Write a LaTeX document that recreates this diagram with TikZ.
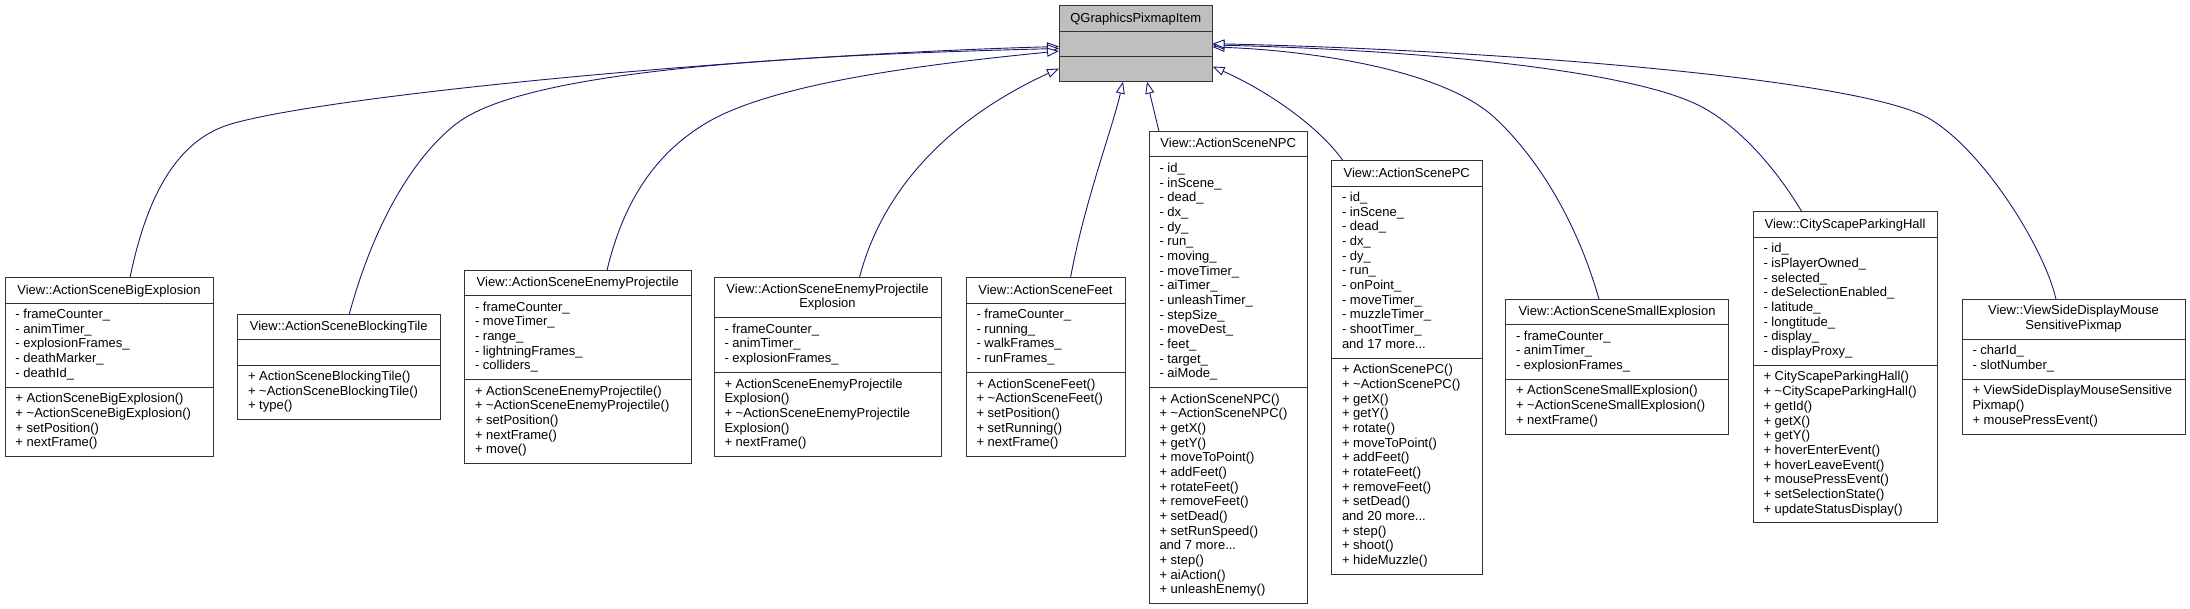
\documentclass[tikz,border=0pt]{standalone}
\usepackage{fontspec}
\setmainfont{Liberation Sans}
\usetikzlibrary{arrows.meta}
\definecolor{edgeblue}{HTML}{191970}
\definecolor{boxline}{HTML}{333333}
\definecolor{parentgray}{HTML}{BFBFBF}
\newcommand\cstrut{\rule[-3.67pt]{0pt}{14.67pt}}
\newcommand\tld{\textasciitilde}
\tikzset{
  cls/.style={draw=boxline, line width=1pt, fill=white, inner sep=0pt, outer sep=0pt, anchor=north west},
  sepline/.style={draw=boxline, line width=1pt},
  txt/.style={font=\fontsize{13pt}{14.67pt}\selectfont, inner sep=0pt, outer sep=0pt,
              execute at begin node=\cstrut, execute at end node=\cstrut},
  ttl/.style={txt, align=center, anchor=center},
  lst/.style={txt, align=left, anchor=west},
  inh/.style={draw=edgeblue, line width=0.9pt, -{Triangle[length=12pt, width=9pt, fill=white]}},
}
\begin{document}
\begin{tikzpicture}[x=1pt, y=-1pt]
\fill[white] (0,0) rectangle (2190,609);
\useasboundingbox (0,0) rectangle (2190,609);

% ---------- parent ----------
\node[cls, fill=parentgray, minimum width=153.5pt, minimum height=76pt] (parent) at (1059,5.7) {};
\draw[sepline] (1059,31.3) -- (1212.5,31.3);
\draw[sepline] (1059,56.5) -- (1212.5,56.5);
\node[ttl] (parent-t) at (1135.75,18.5) {QGraphicsPixmapItem};

% ---------- BigExplosion ----------
\node[cls, minimum width=208pt, minimum height=178.8pt] (bigexp) at (5,277.7) {};
\draw[sepline] (5,303.07) -- (213,303.07);
\draw[sepline] (5,387.12) -- (213,387.12);
\node[ttl] (bigexp-t) at (109,290.4) {View::ActionSceneBigExplosion};
\node[lst] (bigexp-a) at (15.5,345.1) {- frameCounter\_\\- animTimer\_\\- explosionFrames\_\\- deathMarker\_\\- deathId\_};
\node[lst] (bigexp-m) at (15.5,421.8) {+ ActionSceneBigExplosion()\\+ \tld ActionSceneBigExplosion()\\+ setPosition()\\+ nextFrame()};

% ---------- BlockingTile ----------
\node[cls, minimum width=202.5pt, minimum height=105.45pt] (blocktile) at (237.5,314.3) {};
\draw[sepline] (237.5,339.67) -- (440,339.67);
\draw[sepline] (237.5,365.04) -- (440,365.04);
\node[ttl] (blocktile-t) at (338.75,327) {View::ActionSceneBlockingTile};
\node[lst] (blocktile-m) at (248,392.4) {+ ActionSceneBlockingTile()\\+ \tld ActionSceneBlockingTile()\\+ type()};

% ---------- EnemyProjectile ----------
\node[cls, minimum width=226.5pt, minimum height=193.47pt] (enproj) at (464.5,270.3) {};
\draw[sepline] (464.5,295.67) -- (691,295.67);
\draw[sepline] (464.5,379.72) -- (691,379.72);
\node[ttl] (enproj-t) at (577.75,283) {View::ActionSceneEnemyProjectile};
\node[lst] (enproj-a) at (475,337.7) {- frameCounter\_\\- moveTimer\_\\- range\_\\- lightningFrames\_\\- colliders\_};
\node[lst] (enproj-m) at (475,421.75) {+ ActionSceneEnemyProjectile()\\+ \tld ActionSceneEnemyProjectile()\\+ setPosition()\\+ nextFrame()\\+ move()};

% ---------- EnemyProjectileExplosion ----------
\node[cls, minimum width=227pt, minimum height=178.8pt] (enprojexp) at (714,277.7) {};
\draw[sepline] (714,317.74) -- (941,317.74);
\draw[sepline] (714,372.45) -- (941,372.45);
\node[ttl] (enprojexp-t) at (827.5,297.72) {View::ActionSceneEnemyProjectile\\Explosion};
\node[lst] (enprojexp-a) at (724.5,345.1) {- frameCounter\_\\- animTimer\_\\- explosionFrames\_};
\node[lst] (enprojexp-m) at (724.5,414.48) {+ ActionSceneEnemyProjectile\\Explosion()\\+ \tld ActionSceneEnemyProjectile\\Explosion()\\+ nextFrame()};

% ---------- Feet ----------
\node[cls, minimum width=159pt, minimum height=178.8pt] (feet) at (966,277.7) {};
\draw[sepline] (966,303.07) -- (1125,303.07);
\draw[sepline] (966,372.45) -- (1125,372.45);
\node[ttl] (feet-t) at (1045.5,290.4) {View::ActionSceneFeet};
\node[lst] (feet-a) at (976.5,337.76) {- frameCounter\_\\- running\_\\- walkFrames\_\\- runFrames\_};
\node[lst] (feet-m) at (976.5,414.48) {+ ActionSceneFeet()\\+ \tld ActionSceneFeet()\\+ setPosition()\\+ setRunning()\\+ nextFrame()};

% ---------- NPC ----------
\node[cls, minimum width=158.5pt, minimum height=472.2pt] (npc) at (1149,131.5) {};
\draw[sepline] (1149,156.87) -- (1307.5,156.87);
\draw[sepline] (1149,387.62) -- (1307.5,387.62);
\node[ttl] (npc-t) at (1228.25,144.2) {View::ActionSceneNPC};
\node[lst] (npc-a) at (1159.5,272.25) {- id\_\\- inScene\_\\- dead\_\\- dx\_\\- dy\_\\- run\_\\- moving\_\\- moveTimer\_\\- aiTimer\_\\- unleashTimer\_\\- stepSize\_\\- moveDest\_\\- feet\_\\- target\_\\- aiMode\_};
\node[lst] (npc-m) at (1159.5,495.66) {+ ActionSceneNPC()\\+ \tld ActionSceneNPC()\\+ getX()\\+ getY()\\+ moveToPoint()\\+ addFeet()\\+ rotateFeet()\\+ removeFeet()\\+ setDead()\\+ setRunSpeed()\\and 7 more...\\+ step()\\+ aiAction()\\+ unleashEnemy()};

% ---------- PC ----------
\node[cls, minimum width=150.5pt, minimum height=413.52pt] (pc) at (1331.5,160.7) {};
\draw[sepline] (1331.5,186.07) -- (1482,186.07);
\draw[sepline] (1331.5,358.14) -- (1482,358.14);
\node[ttl] (pc-t) at (1406.75,173.4) {View::ActionScenePC};
\node[lst] (pc-a) at (1342,272.1) {- id\_\\- inScene\_\\- dead\_\\- dx\_\\- dy\_\\- run\_\\- onPoint\_\\- moveTimer\_\\- muzzleTimer\_\\- shootTimer\_\\and 17 more...};
\node[lst] (pc-m) at (1342,466.18) {+ ActionScenePC()\\+ \tld ActionScenePC()\\+ getX()\\+ getY()\\+ rotate()\\+ moveToPoint()\\+ addFeet()\\+ rotateFeet()\\+ removeFeet()\\+ setDead()\\and 20 more...\\+ step()\\+ shoot()\\+ hideMuzzle()};

% ---------- SmallExplosion ----------
\node[cls, minimum width=223pt, minimum height=134.79pt] (smallexp) at (1505.5,299.3) {};
\draw[sepline] (1505.5,324.67) -- (1728.5,324.67);
\draw[sepline] (1505.5,379.38) -- (1728.5,379.38);
\node[ttl] (smallexp-t) at (1617,312) {View::ActionSceneSmallExplosion};
\node[lst] (smallexp-a) at (1516,352.03) {- frameCounter\_\\- animTimer\_\\- explosionFrames\_};
\node[lst] (smallexp-m) at (1516,406.74) {+ ActionSceneSmallExplosion()\\+ \tld ActionSceneSmallExplosion()\\+ nextFrame()};

% ---------- CityScapeParkingHall ----------
\node[cls, minimum width=184pt, minimum height=310.83pt] (parking) at (1753,212) {};
\draw[sepline] (1753,237.37) -- (1937,237.37);
\draw[sepline] (1753,365.43) -- (1937,365.43);
\node[ttl] (parking-t) at (1845,224.7) {View::CityScapeParkingHall};
\node[lst] (parking-a) at (1763.5,301.4) {- id\_\\- isPlayerOwned\_\\- selected\_\\- deSelectionEnabled\_\\- latitude\_\\- longtitude\_\\- display\_\\- displayProxy\_};
\node[lst] (parking-m) at (1763.5,444.13) {+ CityScapeParkingHall()\\+ \tld CityScapeParkingHall()\\+ getId()\\+ getX()\\+ getY()\\+ hoverEnterEvent()\\+ hoverLeaveEvent()\\+ mousePressEvent()\\+ setSelectionState()\\+ updateStatusDisplay()};

% ---------- ViewSideDisplayMouseSensitivePixmap ----------
\node[cls, minimum width=223pt, minimum height=134.79pt] (viewside) at (1962,299.3) {};
\draw[sepline] (1962,339.34) -- (2185,339.34);
\draw[sepline] (1962,379.38) -- (2185,379.38);
\node[ttl] (viewside-t) at (2073.5,319.32) {View::ViewSideDisplayMouse\\SensitivePixmap};
\node[lst] (viewside-a) at (1972.5,359.36) {- charId\_\\- slotNumber\_};
\node[lst] (viewside-m) at (1972.5,406.74) {+ ViewSideDisplayMouseSensitive\\Pixmap()\\+ mousePressEvent()};

% ---------- inheritance edges ----------
\draw[inh] ([xshift=21pt]bigexp.north) .. controls (148,190) and (180,139) .. (231,124)
   .. controls (330,95) and (750,55) .. ([yshift=-2.8pt]parent.west);
\draw[inh] ([xshift=10.5pt]blocktile.north) .. controls (372,230) and (410,160) .. (456,124)
   .. controls (526,69) and (800,55) .. ([yshift=-4.8pt]parent.west);
\draw[inh] ([xshift=29.25pt]enproj.north) .. controls (625,195) and (660,150) .. (708,122)
   .. controls (780,80) and (950,62) .. ([yshift=-7.3pt]parent.west);
\draw[inh] ([xshift=31.9pt]enprojexp.north) .. controls (890,160) and (990,100) .. ([yshift=-24.8pt]parent.west);
\draw[inh] ([xshift=25pt]feet.north) .. controls (1085,200) and (1112,130) .. ([xshift=-12.75pt]parent.south);
\draw[inh] ([xshift=-69.25pt]npc.north) -- ([xshift=11.25pt]parent.south);
\draw[inh] ([xshift=-63.75pt]pc.north) .. controls (1320,128) and (1270,92) .. ([yshift=-22.8pt]parent.east);
\draw[inh] ([xshift=-18pt]smallexp.north) .. controls (1578,225) and (1540,160) .. (1495,118)
   .. controls (1440,67) and (1300,50) .. ([yshift=-3.3pt]parent.east);
\draw[inh] ([xshift=-43pt]parking.north) .. controls (1772,162) and (1735,124) .. (1700,106)
   .. controls (1630,70) and (1420,50) .. ([yshift=-1.3pt]parent.east);
\draw[inh] ([xshift=-17.5pt]viewside.north) .. controls (2045,250) and (1985,152) .. (1930,119)
   .. controls (1864,79) and (1500,50) .. (parent.east);
\end{tikzpicture}
\end{document}
